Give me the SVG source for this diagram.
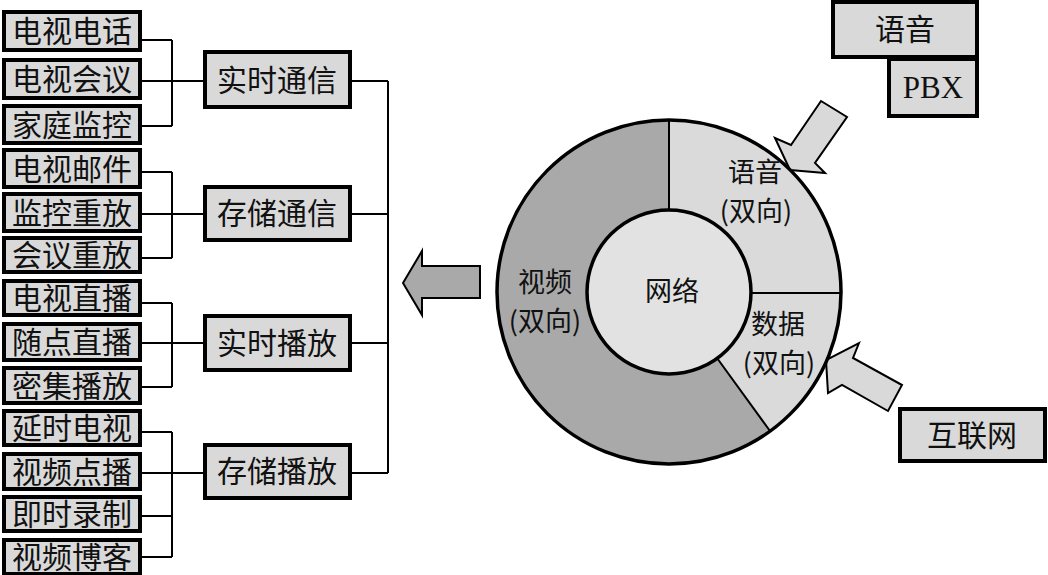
<svg xmlns="http://www.w3.org/2000/svg" width="1048" height="575" viewBox="0 0 1048 575">
<style>
.box{fill:#d9d9d9;stroke:#000;stroke-width:4}
.t{font-family:"Noto Sans CJK SC","Noto Sans CJK JP",sans-serif;font-size:30px;fill:#111;text-anchor:middle}
.c{font-family:"Noto Sans CJK SC","Noto Sans CJK JP",sans-serif;font-size:27px;fill:#111;text-anchor:middle}
.conn{stroke:#000;stroke-width:2;fill:none}
.arr{stroke:#000;stroke-width:2;stroke-linejoin:miter}
</style>
<rect width="1048" height="575" fill="#fff"/>
<g id="connectors">
<path class="conn" d="M142,40H172M142,81H203M142,126H172M172,40V126"/>
<path class="conn" d="M142,172H172M142,214H203M142,258H172M172,172V258"/>
<path class="conn" d="M142,303H172M142,343H203M142,387H172M172,303V387"/>
<path class="conn" d="M142,432H172M142,473H203M142,516H172M142,557H172M172,432V557"/>
<path class="conn" d="M351,81H388M351,214H388M351,343H388M351,473H388M388,81V473"/>
</g>
<g id="n1"><rect class="box" x="4" y="12" width="136" height="38"/><text class="t" x="72" y="42">电视电话</text></g>
<g id="n2"><rect class="box" x="4" y="60" width="136" height="38"/><text class="t" x="72" y="90">电视会议</text></g>
<g id="n3"><rect class="box" x="4" y="106" width="136" height="37"/><text class="t" x="72" y="136">家庭监控</text></g>
<g id="n4"><rect class="box" x="4" y="150" width="136" height="37"/><text class="t" x="72" y="180">电视邮件</text></g>
<g id="n5"><rect class="box" x="4" y="194" width="136" height="37"/><text class="t" x="72" y="224">监控重放</text></g>
<g id="n6"><rect class="box" x="4" y="238" width="136" height="34"/><text class="t" x="72" y="266">会议重放</text></g>
<g id="n7"><rect class="box" x="4" y="281" width="136" height="34"/><text class="t" x="72" y="309">电视直播</text></g>
<g id="n8"><rect class="box" x="4" y="324" width="136" height="36"/><text class="t" x="72" y="353">随点直播</text></g>
<g id="n9"><rect class="box" x="4" y="368" width="136" height="35"/><text class="t" x="72" y="397">密集播放</text></g>
<g id="n10"><rect class="box" x="4" y="411" width="136" height="34"/><text class="t" x="72" y="439">延时电视</text></g>
<g id="n11"><rect class="box" x="4" y="454" width="136" height="35"/><text class="t" x="72" y="483">视频点播</text></g>
<g id="n12"><rect class="box" x="4" y="497" width="136" height="34"/><text class="t" x="72" y="525">即时录制</text></g>
<g id="n13"><rect class="box" x="4" y="540" width="136" height="34"/><text class="t" x="72" y="568">视频博客</text></g>
<g id="m1"><rect class="box" x="205" y="52" width="145" height="55"/><text class="t" x="277" y="91">实时通信</text></g>
<g id="m2"><rect class="box" x="205" y="187" width="145" height="53"/><text class="t" x="277" y="224">存储通信</text></g>
<g id="m3"><rect class="box" x="205" y="316" width="145" height="54"/><text class="t" x="277" y="354">实时播放</text></g>
<g id="m4"><rect class="box" x="205" y="445" width="145" height="53"/><text class="t" x="277" y="482">存储播放</text></g>
<g id="out-arrow"><polygon class="arr" fill="#a9a9a9" points="403,283 422,251 422,266 480,266 480,298 422,298 422,315"/></g>
<g id="arrow-voice"><polygon class="arr" fill="#d9d9d9" points="821,101 847,117 815,163 825,173 790,170 775,138 791,145"/></g>
<g id="arrow-data"><polygon class="arr" fill="#d9d9d9" points="859,343 853,358 902,385 888,411 842,385 828,393 826,360"/></g>
<g id="ring">
<circle cx="669" cy="292" r="172" fill="#dadada"/>
<path d="M669,292 L669,120 A172,172 0 1,0 770.1,431.2 Z" fill="#a9a9a9"/>
<line x1="669" y1="120" x2="669" y2="210" stroke="#000" stroke-width="2"/>
<line x1="751" y1="293" x2="841" y2="293" stroke="#000" stroke-width="2"/>
<line x1="717" y1="358" x2="770" y2="431" stroke="#000" stroke-width="2"/>
<circle cx="669" cy="292" r="172" fill="none" stroke="#000" stroke-width="3.5"/>
<text class="c" x="755" y="182">语音</text>
<text class="c" x="756" y="221">(双向)</text>
<text class="c" x="545" y="292">视频</text>
<text class="c" x="545" y="331">(双向)</text>
<text class="c" x="778" y="334">数据</text>
<text class="c" x="779" y="373">(双向)</text>
</g>
<g id="network"><circle cx="669" cy="292" r="82" fill="#e2e2e2" stroke="#000" stroke-width="3.5"/><text class="c" x="672" y="301">网络</text></g>
<g id="voice"><rect class="box" x="833" y="2" width="144" height="55"/><text class="t" x="905" y="40">语音</text></g>
<g id="pbx"><rect class="box" x="889" y="59" width="88" height="57"/><text x="933" y="98" font-family="Liberation Serif, serif" font-size="31" fill="#111" text-anchor="middle">PBX</text></g>
<g id="internet"><rect class="box" x="900" y="409" width="145" height="52"/><text class="t" x="972" y="446">互联网</text></g>
</svg>
